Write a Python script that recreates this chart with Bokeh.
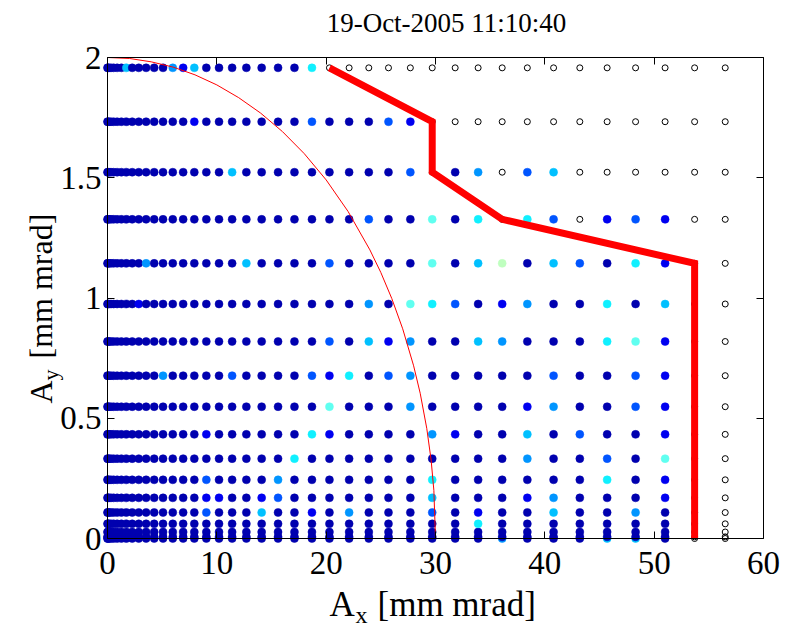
import math
from bokeh.plotting import figure
from bokeh.models import LinearAxis, FixedTicker, NumeralTickFormatter, Label, Range1d, ColumnDataSource
from bokeh.embed import file_html
from bokeh.resources import INLINE

# ---- data ----
title_text = "19-Oct-2005 11:10:40"
ax_grid = [0, 0.035, 0.14, 0.32, 0.56, 0.88, 1.27, 1.73, 2.26, 2.86, 3.53, 4.27, 5.08, 5.97,
           6.92, 7.94, 9.04, 10.2, 11.4, 12.7, 14.1, 15.6, 17.1, 18.7, 20.3, 22.1, 23.9, 25.7,
           27.7, 29.7, 31.8, 33.9, 36.1, 38.4, 40.8, 43.2, 45.7, 48.3, 51.0, 53.7, 56.5]
ay_grid = [0, 0.0068, 0.027, 0.061, 0.108, 0.169, 0.244, 0.332, 0.433, 0.548, 0.677,
           0.819, 0.975, 1.144, 1.327, 1.523, 1.733, 1.957]
# one string per Ay row (bottom row first), one character per Ax column
# digits = colour level of the particle, o = lost particle (open circle)
row_codes = [
    "0000000000|0000000000|0000000000|003000440o|o",
    "0000000000|0000000000|0000000000|000000000o|o",
    "0000000000|0000000000|0000000000|000000000o|o",
    "0000000000|0000000000|0000000000|050000000o|o",
    "0000000000|0000002000|4001030002|010040030o|o",
    "0000000000|0000001100|1200000004|000130001o|o",
    "0000000000|0000002000|0300000005|000000501o|o",
    "0000000000|0000000000|0050000000|000300206o|o",
    "0000000000|0000001000|0005100003|100402001o|o",
    "0000000000|0000000000|0000600030|000130021o|o",
    "0000000000|0030000020|0002150230|000020021o|o",
    "0000000000|0000000000|0000204130|043000561o|o",
    "0000000001|0000000000|0000003065|201300504o|o",
    "0000000000|3000000004|0000200006|047042051o|o",
    "0000000000|0000000000|0000002006|05o52o121o|o",
    "0000000000|0000000040|000000002o|03o24ooooo|o",
    "0000000000|0000010000|000200021o|oooooooooo|o",
    "0000000400|0003140000|0005oooooo|oooooooooo|o",
]
level_colors = {"0": "#0000AF", "1": "#0000F0", "2": "#0055FF", "3": "#0095FF",
                "4": "#00C0FF", "5": "#10F0FF", "6": "#60FFF0", "7": "#BFFFBF"}

curve_ax = [0, 2, 4, 6, 8, 10, 12, 14, 16, 18, 20, 22, 24, 25, 26, 27, 28, 28.6, 29.2, 29.6, 29.85, 30]
curve_ay = [2.0, 1.996, 1.982, 1.96, 1.928, 1.886, 1.833, 1.769, 1.692, 1.6, 1.491, 1.36, 1.2,
            1.106, 0.998, 0.872, 0.718, 0.604, 0.458, 0.326, 0.2, 0.0]
border_ax = [20.3, 29.7, 29.7, 36.1, 53.7, 53.7]
border_ay = [1.957, 1.733, 1.523, 1.327, 1.144, 0.0]

x_ticks = [0, 10, 20, 30, 40, 50, 60]
y_ticks = [0, 0.5, 1, 1.5, 2]

# ---- build sources ----
fx, fy, fc, hx, hy = [], [], [], [], []
for j, row in enumerate(row_codes):
    codes = row.replace("|", "")
    for i, c in enumerate(codes):
        if c == "o":
            hx.append(ax_grid[i]); hy.append(ay_grid[j])
        else:
            fx.append(ax_grid[i]); fy.append(ay_grid[j]); fc.append(level_colors[c])

filled = ColumnDataSource(dict(x=fx, y=fy, c=fc))
hollow = ColumnDataSource(dict(x=hx, y=hy))

FONT = "Liberation Serif"
W, H = 785, 633
# pixel position of the axes box inside the page
BOX_L, BOX_R, BOX_T, BOX_B = 107.0, 763.0, 57.0, 538.0
SX = (BOX_R - BOX_L) / 60.0
SY = (BOX_B - BOX_T) / 2.0

def dx(px):
    return (px - BOX_L) / SX

def dy(py):
    return (BOX_B - py) / SY

p = figure(width=W, height=H, output_backend="svg", toolbar_location=None,
           x_range=Range1d(dx(0), dx(W)), y_range=Range1d(dy(H), dy(0)),
           min_border_left=0, min_border_right=0, min_border_top=0, min_border_bottom=0)
p.outline_line_color = None
p.grid.visible = False
p.background_fill_color = "white"
p.border_fill_color = "white"

p.scatter("x", "y", source=hollow, size=6, marker="circle", fill_color=None,
          line_color="black", line_width=1)
p.scatter("x", "y", source=filled, size=8, marker="circle", fill_color="c", line_color="c",
          line_width=0.5)
p.line(curve_ax, curve_ay, line_color="red", line_width=1)
p.line(border_ax, border_ay, line_color="red", line_width=7, line_join="miter")

def style_axis(ax, labels=True):
    ax.axis_line_color = "black"
    ax.axis_line_width = 1
    ax.major_tick_line_color = "black"
    ax.major_tick_in = 7
    ax.major_tick_out = 0
    ax.minor_tick_in = 0
    ax.minor_tick_out = 0
    ax.major_label_text_font = FONT
    if labels:
        ax.major_label_text_font_size = "33px"
        ax.major_label_text_color = "black"
    else:
        ax.major_label_text_font_size = "0px"
        ax.major_label_text_alpha = 0

xa = p.xaxis[0]
xa.ticker = FixedTicker(ticks=x_ticks)
xa.fixed_location = 0
xa.bounds = (0, 60)
xa.major_label_standoff = 13
style_axis(xa)

ya = p.yaxis[0]
ya.ticker = FixedTicker(ticks=y_ticks)
ya.formatter = NumeralTickFormatter(format="0.[0]")
ya.fixed_location = 0
ya.bounds = (0, 2)
ya.major_label_standoff = 6
style_axis(ya)

top = LinearAxis(ticker=FixedTicker(ticks=x_ticks), fixed_location=2, bounds=(0, 60))
style_axis(top, labels=False)
p.add_layout(top, "above")
right = LinearAxis(ticker=FixedTicker(ticks=y_ticks), fixed_location=60, bounds=(0, 2))
style_axis(right, labels=False)
p.add_layout(right, "right")

def lab(text, px, py, size, angle=0.0, align="left", baseline="alphabetic"):
    p.add_layout(Label(x=dx(px), y=dy(py), text=text, text_font=FONT, text_font_size=size,
                       text_color="black", angle=angle, text_align=align,
                       text_baseline=baseline))

lab(title_text, 446, 22, "27px", align="center")
# x label
lab("A", 329, 604, "35px")
lab("x", 355, 614, "24px")
lab("[mm mrad]", 377, 604, "35px")
# y label (rotated)
lab("A", 40, 403, "32px", angle=math.pi / 2)
lab("y", 50, 380, "22px", angle=math.pi / 2)
lab("[mm mrad]", 40, 358, "32px", angle=math.pi / 2)

open("out.html", "w").write(file_html(p, INLINE))
